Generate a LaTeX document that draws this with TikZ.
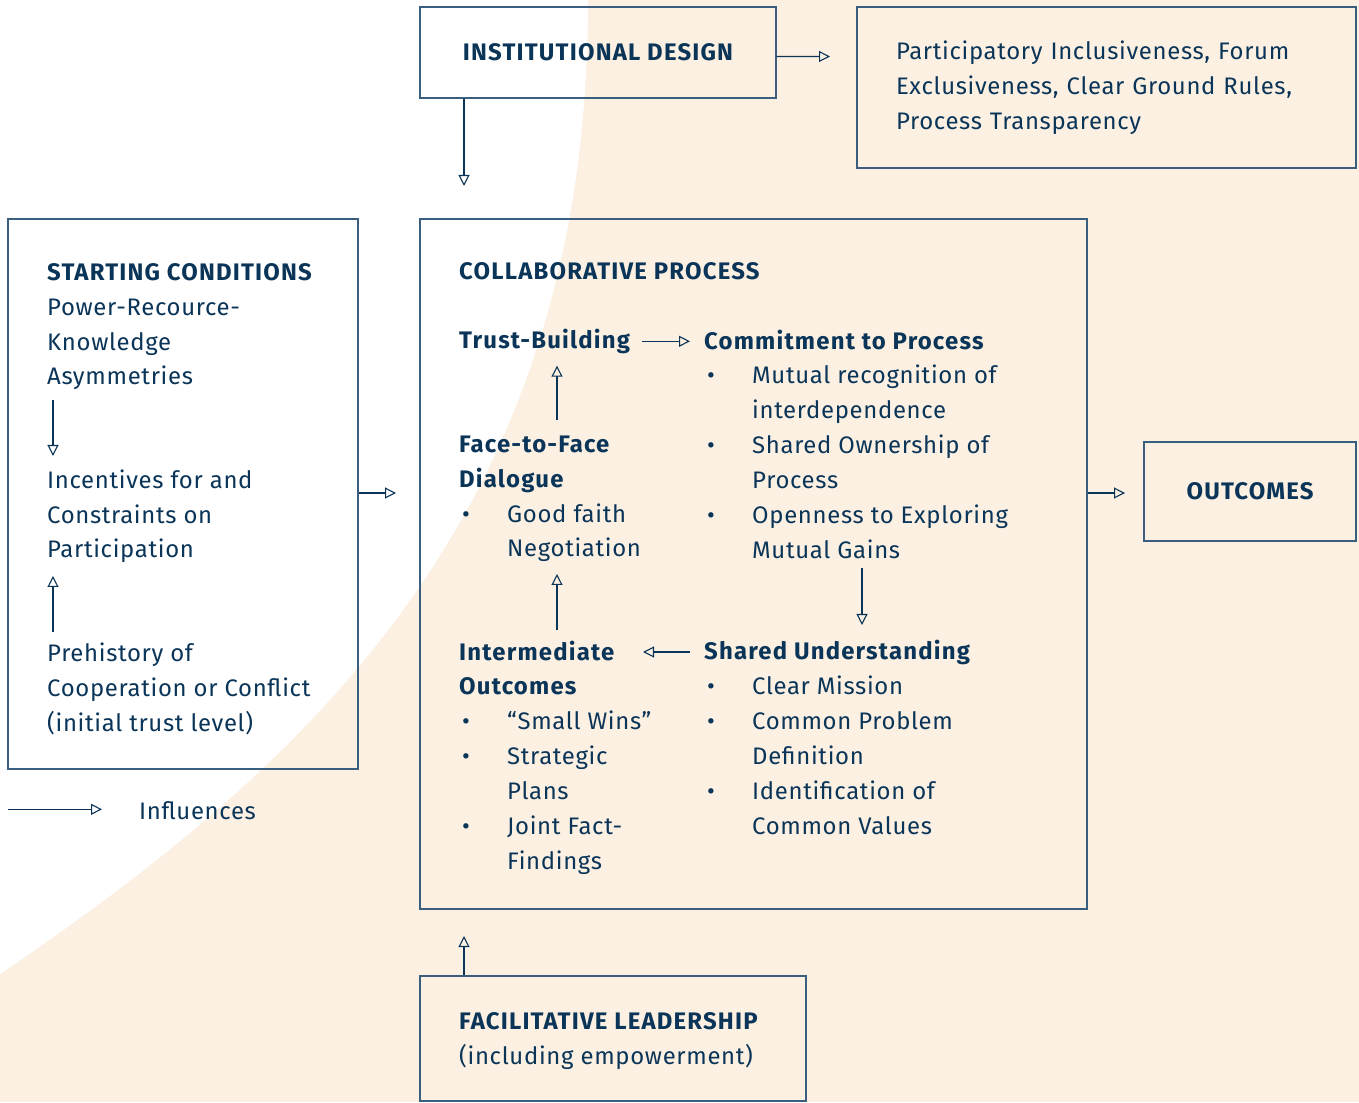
\documentclass[tikz,border=0pt]{standalone}
\usepackage{fontspec}
\setmainfont{Fira Sans}[LetterSpace=2.8,BoldFeatures={LetterSpace=5}]
\usetikzlibrary{arrows.meta}
\definecolor{navy}{HTML}{0B3558}
\definecolor{frameblue}{HTML}{3A5E7E}
\definecolor{sand}{HTML}{FBF0E2}
\newcommand{\itm}{\makebox[48bp][l]{\kern3bp\textbullet}}
\newcommand{\cnt}{\hspace*{48bp}}
\tikzset{
  frame/.style={draw=frameblue,line width=1.4bp,inner sep=0pt,text=navy,font=\fontsize{24}{35}\selectfont\bfseries},
  txt/.style={anchor=base west,align=left,inner sep=0pt,text=navy,font=\fontsize{24}{35}\selectfont},
  infl/.style={draw=navy,line width=1.1bp,-{Triangle[open,length=11bp,width=11bp]}},
}
\begin{document}
\begin{tikzpicture}[x=1bp,y=1bp]
%%
\fill[sand] (0,0) rectangle (1359,1102);
\fill[white] (0,1102) -- (588,1102) .. controls (588,602) and (325,348) .. (0,128) -- cycle;
\useasboundingbox (0,0) rectangle (1359,1102);
%% boxes
\node (inst) at (598,1049.5) [frame,minimum width=356bp,minimum height=91bp] {INSTITUTIONAL DESIGN};
\node (rules) at (1106.5,1014.5) [frame,minimum height=161bp,text width=421bp,inner xsep=39bp,align=left,font=\fontsize{24}{35}\selectfont]
  {Participatory Inclusiveness, Forum\\Exclusiveness, Clear Ground Rules,\\Process Transparency};
\node (start) at (183,608) [frame,minimum width=350bp,minimum height=550bp] {};
\node (collab) at (753.5,538) [frame,minimum width=667bp,minimum height=690bp] {};
\node (outc) at (1250,610.5) [frame,minimum width=212bp,minimum height=99bp] {OUTCOMES};
\node (facil) at (613,63.5) [frame,minimum width=386bp,minimum height=125bp] {};
%% starting conditions (base = last line)
\node (cond1) at (47,717) [txt] {\textbf{STARTING CONDITIONS}\\Power-Recource-\\Knowledge\\Asymmetries};
\node (cond2) at (47,544) [txt] {Incentives for and\\Constraints on\\Participation};
\node (cond3) at (47,371) [txt] {Prehistory of\\Cooperation or Conflict\\(initial trust level)};
\coordinate (c1) at (53,702);
\coordinate (c2) at (53,646);
\coordinate (c3) at (53,470);
\coordinate (c4) at (53,526);
\draw [infl] (c1) -- (c2);
\draw [infl] (c3) -- (c4);
%% collaborative process
\node (proc) at (459,822) [txt] {\textbf{COLLABORATIVE PROCESS}};
\node (trust) at (459,753.7) [txt] {\textbf{Trust-Building}};
\node (commit) at (704,543.7) [txt] {\textbf{Commitment to Process}\\
  \itm Mutual recognition of\\\cnt interdependence\\
  \itm Shared Ownership of\\\cnt Process\\
  \itm Openness to Exploring\\\cnt Mutual Gains};
\node (dialog) at (459,545) [txt] {\textbf{Face-to-Face}\\\textbf{Dialogue}\\
  \itm Good faith\\\cnt Negotiation};
\node (inter) at (459,232.7) [txt] {\textbf{Intermediate}\\\textbf{Outcomes}\\
  \itm ``Small Wins''\\
  \itm Strategic\\\cnt Plans\\
  \itm Joint Fact-\\\cnt Findings};
\node (shared) at (704,267.7) [txt] {\textbf{Shared Understanding}\\
  \itm Clear Mission\\
  \itm Common Problem\\\cnt Definition\\
  \itm Identification of\\\cnt Common Values};
\coordinate (t1) at (642,760.7);
\coordinate (t2) at (690,760.7);
\coordinate (d1) at (557,682);
\coordinate (d2) at (557,736.3);
\coordinate (i1) at (557,472);
\coordinate (i2) at (557,528);
\coordinate (s1) at (862,533.7);
\coordinate (s2) at (862,477);
\coordinate (s3) at (690,450);
\coordinate (s4) at (643,450);
\draw [infl] (t1) -- (t2);
\draw [infl] (d1) -- (d2);
\draw [infl] (i1) -- (i2);
\draw [infl] (s1) -- (s2);
\draw [infl] (s3) -- (s4);
%% leadership
\node (lead) at (459,38) [txt] {\textbf{FACILITATIVE LEADERSHIP}\\(including empowerment)};
%% links between boxes
\coordinate (instdown) at (464,916);
\coordinate (instright) at (830,1045.5);
\coordinate (startright) at (396,609);
\coordinate (collabright) at (1125,609);
\coordinate (leadup) at (464,166);
\draw [infl] ([yshift=-4bp]inst.east) -- (instright);
\draw [infl] (inst.south west -| instdown) -- (instdown);
\draw [infl] (start.east |- startright) -- (startright);
\draw [infl] (collab.east |- collabright) -- (collabright);
\draw [infl] (facil.north west -| leadup) -- (leadup);
%% legend
\coordinate (key1) at (8,292.7);
\coordinate (key2) at (102,292.7);
\draw [infl] (key1) -- (key2);
\node (keytext) at (139,282.7) [txt] {Influences};
%
\end{tikzpicture}
\end{document}
